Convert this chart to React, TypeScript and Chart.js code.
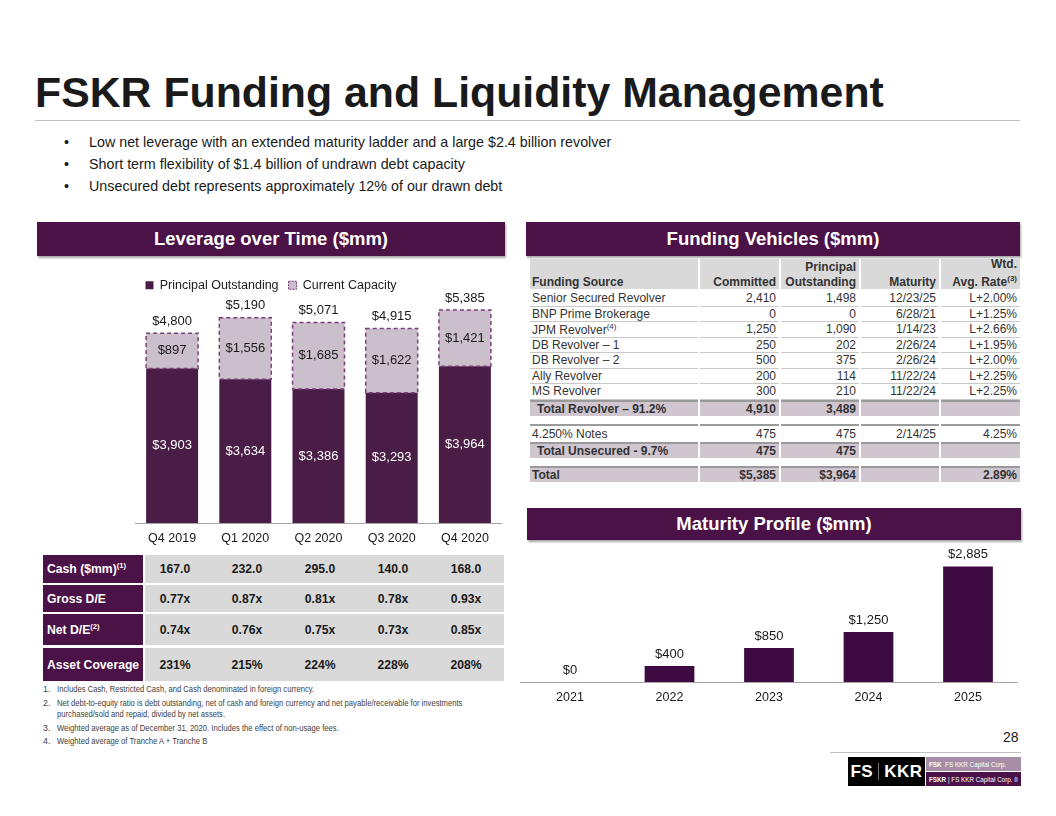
import React, { useEffect, useRef } from "react";
import { Chart, registerables } from "chart.js";
Chart.register(...registerables);

const FONT = "'Liberation Sans', Arial, sans-serif";
const PLUM = "#4b1248";
const PRINCIPAL_COLOR = "#4a1d47";
const CAPACITY_FILL = "#cbbfcc";
const CAPACITY_BORDER = "#7d3f7b";
const MATURITY_COLOR = "#3d0a42";
const TEXT = "#1a1a1a";

// ---- Leverage over time ----
const quarters = ["Q4 2019", "Q1 2020", "Q2 2020", "Q3 2020", "Q4 2020"];
const principalOutstanding = [3903, 3634, 3386, 3293, 3964];
const currentCapacity = [897, 1556, 1685, 1622, 1421];
const totalCapacity = [4800, 5190, 5071, 4915, 5385];

// ---- Stats under leverage chart ----
const statLabels = ["Cash ($mm)", "Gross D/E", "Net D/E", "Asset Coverage"];
const statNotes = ["(1)", "", "(2)", ""];
const cashValues = ["167.0", "232.0", "295.0", "140.0", "168.0"];
const grossDE = ["0.77x", "0.87x", "0.81x", "0.78x", "0.93x"];
const netDE = ["0.74x", "0.76x", "0.75x", "0.73x", "0.85x"];
const assetCoverage = ["231%", "215%", "224%", "228%", "208%"];

// ---- Maturity profile ----
const maturityYears = ["2021", "2022", "2023", "2024", "2025"];
const maturityAmounts = [0, 400, 850, 1250, 2885];

// ---- Funding vehicles table ----
const fundingSources = ["Senior Secured Revolver", "BNP Prime Brokerage", "JPM Revolver", "DB Revolver – 1", "DB Revolver – 2", "Ally Revolver", "MS Revolver"];
const fundingNotes = ["", "", "(4)", "", "", "", ""];
const committed = ["2,410", "0", "1,250", "250", "500", "200", "300"];
const principal = ["1,498", "0", "1,090", "202", "375", "114", "210"];
const maturity = ["12/23/25", "6/28/21", "1/14/23", "2/26/24", "2/26/24", "11/22/24", "11/22/24"];
const rates = ["L+2.00%", "L+1.25%", "L+2.66%", "L+1.95%", "L+2.00%", "L+2.25%", "L+2.25%"];

const bullets = [
  "Low net leverage with an extended maturity ladder and a large $2.4 billion revolver",
  "Short term flexibility of $1.4 billion of undrawn debt capacity",
  "Unsecured debt represents approximately 12% of our drawn debt",
];

const footnotes = [
  ["1.", "Includes Cash, Restricted Cash, and Cash denominated in foreign currency."],
  ["2.", "Net debt-to-equity ratio is debt outstanding, net of cash and foreign currency and net payable/receivable for investments"],
  ["", "purchased/sold and repaid, divided by net assets."],
  ["3.", "Weighted average as of December 31, 2020. Includes the effect of non-usage fees."],
  ["4.", "Weighted average of Tranche A + Tranche B"],
];

const fmt = (v: number) => "$" + v.toLocaleString("en-US");

Chart.defaults.font.family = FONT;

function LeverageChart() {
  const ref = useRef<HTMLCanvasElement>(null);
  useEffect(() => {
    const labelPlugin = {
      id: "levLabels",
      afterDatasetsDraw(chart: any) {
        const ctx = chart.ctx;
        const m0 = chart.getDatasetMeta(0);
        const m1 = chart.getDatasetMeta(1);
        ctx.save();
        ctx.textAlign = "center";
        ctx.textBaseline = "middle";
        ctx.font = `13px ${FONT}`;
        m1.data.forEach((bar: any, i: number) => {
          const { x, y, base, width } = bar.getProps(["x", "y", "base", "width"], true);
          ctx.setLineDash([4, 3]);
          ctx.lineWidth = 1.5;
          ctx.strokeStyle = CAPACITY_BORDER;
          ctx.strokeRect(x - width / 2, y, width, base - y);
          ctx.setLineDash([]);
          ctx.fillStyle = TEXT;
          ctx.fillText(fmt(currentCapacity[i]), x, (y + base) / 2);
          ctx.fillText(fmt(totalCapacity[i]), x, y - 12);
        });
        m0.data.forEach((bar: any, i: number) => {
          const { x, y, base } = bar.getProps(["x", "y", "base"], true);
          ctx.fillStyle = "#ffffff";
          ctx.fillText(fmt(principalOutstanding[i]), x, (y + base) / 2);
        });
        ctx.restore();
      },
    };
    const chart = new Chart(ref.current!, {
      type: "bar",
      data: {
        labels: quarters,
        datasets: [
          { label: "Principal Outstanding", data: principalOutstanding, backgroundColor: PRINCIPAL_COLOR, borderWidth: 0 },
          { label: "Current Capacity", data: currentCapacity, backgroundColor: CAPACITY_FILL, borderWidth: 0 },
        ],
      },
      options: {
        responsive: false,
        animation: false,
        devicePixelRatio: 1,
        layout: { padding: { left: 5.5, right: 8.5, top: 0, bottom: 0 } },
        datasets: { bar: { categoryPercentage: 1, barPercentage: 0.71 } },
        scales: {
          x: {
            stacked: true,
            grid: { display: false, drawTicks: false },
            border: { display: true, color: "#a6a6a6", width: 1 },
            ticks: { color: TEXT, font: { size: 12.5, family: FONT }, padding: 8 },
          },
          y: { stacked: true, display: false, min: 0, max: 5600 },
        },
        plugins: {
          tooltip: { enabled: false },
          legend: {
            display: true,
            position: "top",
            align: "start",
            labels: {
              color: TEXT,
              font: { size: 12.5, family: FONT },
              boxWidth: 8,
              boxHeight: 8,
              padding: 10,
              generateLabels: (c: any) => {
                const items = Chart.defaults.plugins.legend.labels.generateLabels(c);
                items[0].lineWidth = 0;
                items[1].lineWidth = 1;
                items[1].strokeStyle = CAPACITY_BORDER;
                items[1].lineDash = [2, 1];
                return items;
              },
            },
          },
        },
      },
      plugins: [labelPlugin],
    });
    return () => chart.destroy();
  }, []);
  return <canvas ref={ref} width={380} height={285} style={{ position: "absolute", left: 130, top: 269, width: 380, height: 285 }} />;
}

function MaturityChart() {
  const ref = useRef<HTMLCanvasElement>(null);
  useEffect(() => {
    const labelPlugin = {
      id: "matLabels",
      afterDatasetsDraw(chart: any) {
        const ctx = chart.ctx;
        const m = chart.getDatasetMeta(0);
        ctx.save();
        ctx.textAlign = "center";
        ctx.textBaseline = "middle";
        ctx.font = `13px ${FONT}`;
        ctx.fillStyle = TEXT;
        m.data.forEach((bar: any, i: number) => {
          const { x, y } = bar.getProps(["x", "y"], true);
          ctx.fillText(fmt(maturityAmounts[i]), x, y - 12);
        });
        ctx.restore();
      },
    };
    const chart = new Chart(ref.current!, {
      type: "bar",
      data: {
        labels: maturityYears,
        datasets: [{ label: "Maturity", data: maturityAmounts, backgroundColor: MATURITY_COLOR, borderWidth: 0 }],
      },
      options: {
        responsive: false,
        animation: false,
        devicePixelRatio: 1,
        layout: { padding: { left: 5.25, right: 7.25, top: 15, bottom: 5 } },
        datasets: { bar: { categoryPercentage: 1, barPercentage: 0.5 } },
        scales: {
          x: {
            grid: { display: false, drawTicks: false },
            border: { display: true, color: "#a6a6a6", width: 1 },
            ticks: { color: TEXT, font: { size: 12.5, family: FONT }, padding: 8 },
          },
          y: { display: false, min: 0, max: 3050 },
        },
        plugins: { legend: { display: false }, tooltip: { enabled: false } },
      },
      plugins: [labelPlugin],
    });
    return () => chart.destroy();
  }, []);
  return <canvas ref={ref} width={510} height={173} style={{ position: "absolute", left: 515, top: 545, width: 510, height: 173 }} />;
}

function SectionHeader({ left, top, width, height, text }: any) {
  return (
    <div style={{ position: "absolute", left, top, width, height, background: PLUM, color: "#fff", fontWeight: "bold", fontSize: 18.5, display: "flex", alignItems: "center", justifyContent: "center", boxShadow: "1px 2px 2px rgba(0,0,0,0.35)" }}>
      {text}
    </div>
  );
}

const abs = (left: number, top: number, extra: any = {}) => ({ position: "absolute" as const, left, top, ...extra });

function StatsTable() {
  const rows = [cashValues, grossDE, netDE, assetCoverage];
  const tops = [555, 585, 614, 648];
  const heights = [28, 27, 31, 33];
  const centers = [175, 247, 320, 393, 466];
  return (
    <>
      {rows.map((vals, r) => (
        <React.Fragment key={r}>
          <div style={abs(43, tops[r], { width: 100, height: heights[r], background: PLUM, color: "#fff", fontWeight: "bold", fontSize: 12.2, display: "flex", alignItems: "center", paddingLeft: 4, boxSizing: "border-box", whiteSpace: "nowrap" })}>
            <span>
              {statLabels[r]}
              {statNotes[r] && <sup style={{ fontSize: 7.5 }}>{statNotes[r]}</sup>}
            </span>
          </div>
          <div style={abs(145, tops[r], { width: 359, height: heights[r], background: "#d9d9d9" })} />
          {vals.map((v, i) => (
            <div key={i} style={abs(centers[i] - 40, tops[r], { width: 80, height: heights[r], display: "flex", alignItems: "center", justifyContent: "center", fontWeight: "bold", fontSize: 12.2, color: TEXT })}>
              {v}
            </div>
          ))}
        </React.Fragment>
      ))}
    </>
  );
}

const COLS = [
  { left: 530, width: 168 },
  { left: 700, width: 79 },
  { left: 781, width: 78 },
  { left: 861, width: 78 },
  { left: 941, width: 79 },
];

function Cell({ col, top, height, children, align = "right", bg, bold, borderTop, borderBottom, indent = 0 }: any) {
  const c = COLS[col];
  return (
    <div style={abs(c.left, top, {
      width: c.width, height, boxSizing: "border-box", background: bg || "transparent",
      display: "flex", alignItems: "center", justifyContent: align === "left" ? "flex-start" : "flex-end",
      paddingLeft: align === "left" ? 2 + indent : 0, paddingRight: align === "left" ? 0 : 3,
      fontSize: 12, fontWeight: bold ? "bold" : "normal", color: "#333", whiteSpace: "nowrap",
      borderTop: borderTop || "none", borderBottom: borderBottom || "none",
    })}>
      <span>{children}</span>
    </div>
  );
}

function FundingTable() {
  const HEAD_BG = "#d9d9d9";
  const TOTAL_BG = "#cfc6d0";
  const rowH = 15.5;
  const line = "1px solid #c8c8c8";
  const totalTop = "2px solid #9a9a9a";
  const headerCell = (col: number, lines: any[], align: string) => {
    const c = COLS[col];
    return (
      <div key={col} style={abs(c.left, 259, { width: c.width, height: 30, background: HEAD_BG, boxSizing: "border-box", display: "flex", flexDirection: "column", justifyContent: "flex-end", alignItems: align === "left" ? "flex-start" : "flex-end", paddingLeft: 2, paddingRight: 3, paddingBottom: 0, fontSize: 12, fontWeight: "bold", color: "#333", lineHeight: "14.5px", whiteSpace: "nowrap" })}>
        {lines.map((l, i) => <div key={i}>{l}</div>)}
      </div>
    );
  };
  const totalRow = (top: number, label: string, vals: string[], indent: number) => (
    <>
      <Cell col={0} top={top} height={16} align="left" bg={TOTAL_BG} bold borderTop={totalTop} indent={indent}>{label}</Cell>
      <Cell col={1} top={top} height={16} bg={TOTAL_BG} bold borderTop={totalTop}>{vals[0]}</Cell>
      <Cell col={2} top={top} height={16} bg={TOTAL_BG} bold borderTop={totalTop}>{vals[1]}</Cell>
      <Cell col={3} top={top} height={16} bg={TOTAL_BG} bold borderTop={totalTop}>{vals[2]}</Cell>
      <Cell col={4} top={top} height={16} bg={TOTAL_BG} bold borderTop={totalTop}>{vals[3]}</Cell>
    </>
  );
  return (
    <>
      {headerCell(0, ["Funding Source"], "left")}
      {headerCell(1, ["Committed"], "right")}
      {headerCell(2, ["Principal", "Outstanding"], "right")}
      {headerCell(3, ["Maturity"], "right")}
      {headerCell(4, ["Wtd.", <span>Avg. Rate<sup style={{ fontSize: 8 }}>(3)</sup></span>], "right")}
      {fundingSources.map((s, i) => {
        const top = 291 + i * rowH;
        return (
          <React.Fragment key={i}>
            <Cell col={0} top={top} height={rowH} align="left" borderBottom={line}>{s}{fundingNotes[i] && <sup style={{ fontSize: 8 }}>{fundingNotes[i]}</sup>}</Cell>
            <Cell col={1} top={top} height={rowH} borderBottom={line}>{committed[i]}</Cell>
            <Cell col={2} top={top} height={rowH} borderBottom={line}>{principal[i]}</Cell>
            <Cell col={3} top={top} height={rowH} borderBottom={line}>{maturity[i]}</Cell>
            <Cell col={4} top={top} height={rowH} borderBottom={line}>{rates[i]}</Cell>
          </React.Fragment>
        );
      })}
      {totalRow(400, "Total Revolver – 91.2%", ["4,910", "3,489", "", ""], 5)}
      <Cell col={0} top={424} height={17} align="left" borderTop={totalTop}>4.250% Notes</Cell>
      <Cell col={1} top={424} height={17} borderTop={totalTop}>475</Cell>
      <Cell col={2} top={424} height={17} borderTop={totalTop}>475</Cell>
      <Cell col={3} top={424} height={17} borderTop={totalTop}>2/14/25</Cell>
      <Cell col={4} top={424} height={17} borderTop={totalTop}>4.25%</Cell>
      {totalRow(442, "Total Unsecured - 9.7%", ["475", "475", "", ""], 5)}
      {totalRow(466, "Total", ["$5,385", "$3,964", "", "2.89%"], 0)}
    </>
  );
}

function Logo() {
  return (
    <>
      <div style={abs(848, 757, { width: 77, height: 29, background: "#000", color: "#fff", fontWeight: "bold", fontSize: 17, display: "flex", alignItems: "center", justifyContent: "center", letterSpacing: 0.5 })}>
        FS<span style={{ display: "inline-block", width: 1, height: 17, background: "#777", margin: "0 5px" }} />KKR
      </div>
      <div style={abs(926, 757, { width: 95, height: 14, background: "#a58ea6", color: "#fff", fontSize: 6.3, display: "flex", alignItems: "center", paddingLeft: 3, boxSizing: "border-box", whiteSpace: "nowrap", overflow: "hidden" })}>
        <b>FSK</b>&nbsp;&nbsp;FS KKR Capital Corp.
      </div>
      <div style={abs(926, 772, { width: 95, height: 14, background: PLUM, color: "#fff", fontSize: 6.3, display: "flex", alignItems: "center", paddingLeft: 3, boxSizing: "border-box", whiteSpace: "nowrap", overflow: "hidden" })}>
        <b>FSKR</b>&nbsp;|&nbsp;FS KKR Capital Corp. II
      </div>
    </>
  );
}

export default function App() {
  return (
    <div style={{ position: "absolute", left: 0, top: 0, width: 1056, height: 816, background: "#fff", fontFamily: FONT, color: TEXT, overflow: "hidden" }}>
      <div style={abs(35, 71, { fontSize: 42.8, fontWeight: "bold", lineHeight: "43px", whiteSpace: "nowrap", color: TEXT })}>
        FSKR Funding and Liquidity Management
      </div>
      <div style={abs(35, 120, { width: 985, height: 1, background: "#bfbfbf" })} />
      {bullets.map((b, i) => (
        <React.Fragment key={i}>
          <div style={abs(64, 133 + i * 22, { fontSize: 14.3, lineHeight: "18px" })}>•</div>
          <div style={abs(89, 133 + i * 22, { fontSize: 14.3, lineHeight: "18px", whiteSpace: "nowrap" })}>{b}</div>
        </React.Fragment>
      ))}

      <SectionHeader left={37} top={222} width={468} height={34} text="Leverage over Time ($mm)" />
      <SectionHeader left={526} top={222} width={494} height={34} text="Funding Vehicles ($mm)" />
      <SectionHeader left={527} top={508} width={494} height={32} text="Maturity Profile ($mm)" />

      <LeverageChart />
      <StatsTable />
      <FundingTable />
      <MaturityChart />

      {footnotes.map((f, i) => {
        const tops = [684, 698, 709, 723, 736];
        return (
          <React.Fragment key={i}>
            <div style={abs(43, tops[i], { fontSize: 8.8, color: "#404040", lineHeight: "11px" })}>{f[0]}</div>
            <div style={abs(57, tops[i], { fontSize: 8.8, color: "#404040", lineHeight: "11px", whiteSpace: "nowrap", transform: "scaleX(0.87)", transformOrigin: "left center" })}>{f[1]}</div>
          </React.Fragment>
        );
      })}

      <div style={abs(1003, 729, { fontSize: 14, lineHeight: "16px", color: TEXT })}>28</div>
      <div style={abs(830, 752, { width: 191, height: 1, background: "#bfbfbf" })} />
      <Logo />
    </div>
  );
}
